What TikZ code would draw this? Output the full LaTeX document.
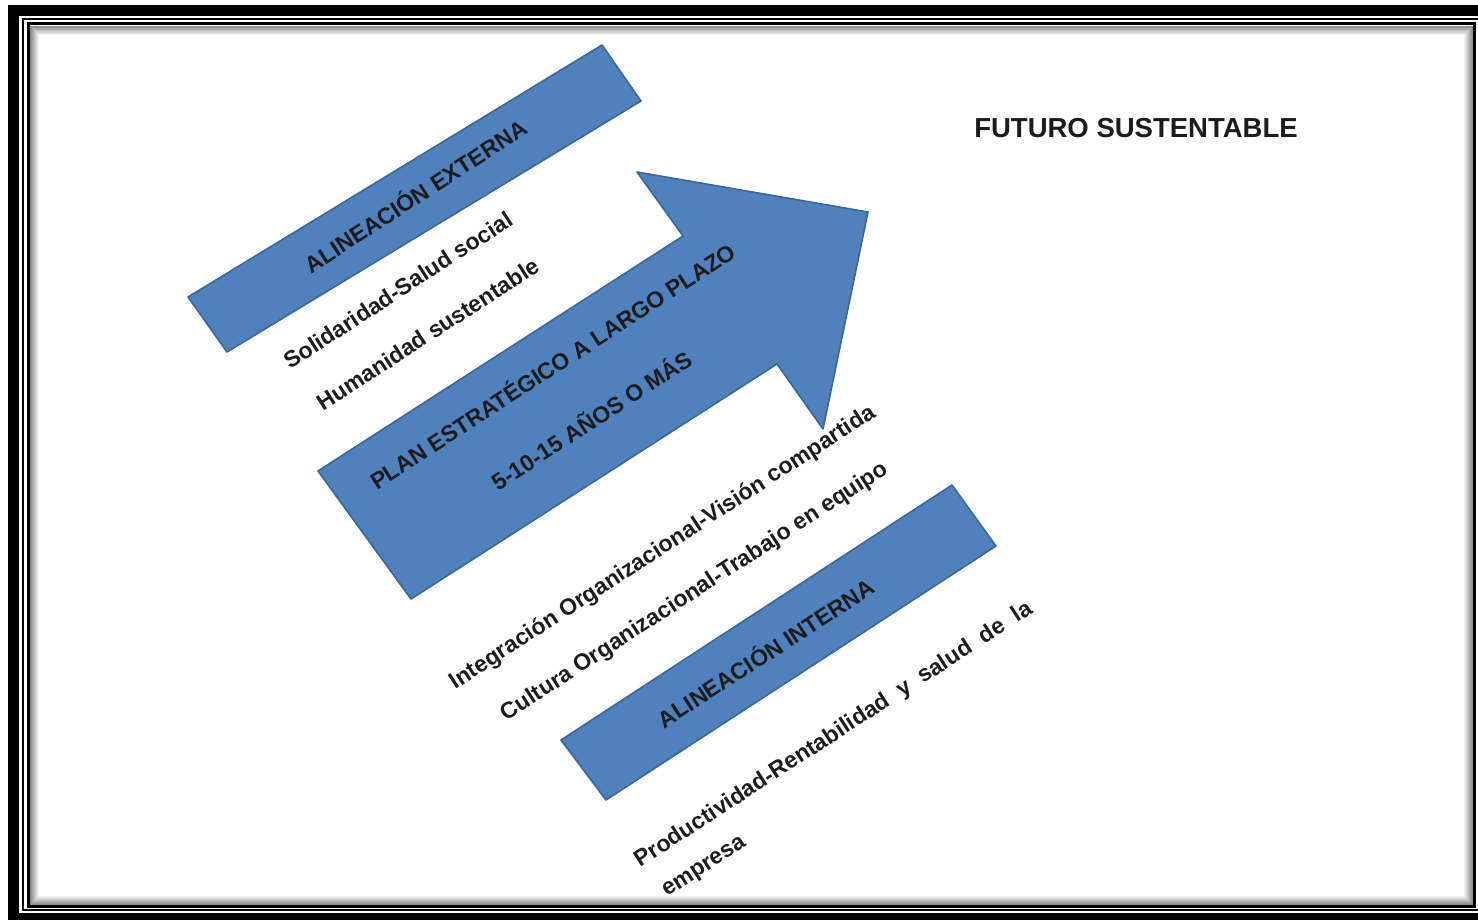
\documentclass[tikz,border=0pt]{standalone}
\usepackage{fontspec}
\setmainfont{Liberation Sans}
\usepackage{tikz}
\definecolor{bandblue}{HTML}{4F81BD}
\definecolor{bandedge}{HTML}{3A669A}
\definecolor{ink}{HTML}{1C1C1C}

\begin{document}
\begin{tikzpicture}[x=1pt, y=-1pt,
    band/.style={fill=bandblue, draw=bandedge, line width=1.6pt, line join=round},
    lbl/.style={font=\fontsize{23}{27}\selectfont\bfseries, text=ink,
        rotate=33, inner sep=0pt}]
    \useasboundingbox (0,0) rectangle (1478,919);
    \clip (0,0) rectangle (1478,919);
    % frame
    \draw[line width=11pt] (13.5,10) rectangle (1492,918.5);
    \draw[line width=2pt] (23,19) rectangle (1481,910);
    \draw[line width=3pt] (28,23.5) rectangle (1474.5,906.5);
    \foreach \k in {1,...,9} {
        \pgfmathsetmacro\shd{50-5*\k}
        \draw[draw=black!\shd, line width=1pt]
            (29.5+\k,25+\k) rectangle (1473-\k,905-\k);
    }
    % bands and arrow
    \draw[band] (188,297) -- (602,45) -- (641,101) -- (227,352) -- cycle;
    \draw[band] (318,471) -- (683,236) -- (637,172) -- (868,212)
        -- (823,429) -- (777,364) -- (411,599) -- cycle;
    \draw[band] (561,740) -- (952,485) -- (996,546) -- (606,800) -- cycle;
    % texts
    \node[lbl] (extname) at (415,195) {ALINEACIÓN EXTERNA};
    \node[lbl] (soli) at (398,290) {Solidaridad-Salud social};
    \node[lbl] (huma) at (428,334) {Humanidad sustentable};
    \node[lbl] (plan) at (552,365) {PLAN ESTRATÉGICO A LARGO PLAZO};
    \node[lbl] (anios) at (591,419) {5-10-15 AÑOS O MÁS};
    \node[lbl] (integ) at (663,548) {Integración Organizacional-Visión compartida};
    \node[lbl] (cultu) at (695,592) {Cultura Organizacional-Trabajo en equipo};
    \node[lbl] (intname) at (765,652) {ALINEACIÓN INTERNA};
    \node[lbl] (produ) at (834,735)
        {Productividad-Rentabilidad\hspace{0.55em}y\hspace{0.55em}salud\hspace{0.55em}de\hspace{0.55em}la};
    \node[lbl] (empre) at (705,868) {empresa};
    \node[font=\fontsize{27.5}{32}\selectfont\bfseries, text=ink, inner sep=0pt]
        (futuro) at (1136,128) {FUTURO SUSTENTABLE};
\end{tikzpicture}
\end{document}
